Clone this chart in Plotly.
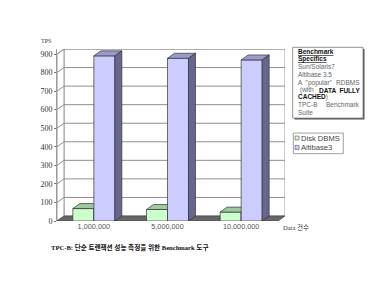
import plotly.graph_objects as go

categories = ["1,000,000", "5,000,000", "10,000,000"]
disk_dbms = [67, 62, 48]
altibase3 = [890, 877, 868]
y_ticks = [0, 100, 200, 300, 400, 500, 600, 700, 800, 900]

series = [
    ("Disk DBMS", disk_dbms, "#ccffcc", "#9ec89e", "#6f8f6f"),
    ("Altibase3", altibase3, "#ccccff", "#9a9acb", "#66668f"),
]

# geometry (in axis units)
W = 0.285          # bar width in category units
DX = 0.095         # depth offset x (category units)
DY = 27            # depth offset y (value units)
YMAX = 900

PL, PR, PT, PB = 57, 95, 49, 63.5
FW, FH = 380, 285
PW = FW - PL - PR
PH = FH - PT - PB


def px(x):
    return (x - PL) / PW


def py(y):
    return (FH - PB - y) / PH


fig = go.Figure()


def poly(xs, ys, fill, line="#333333", lw=0.7):
    fig.add_trace(go.Scatter(
        x=xs + [xs[0]], y=ys + [ys[0]], mode="lines", fill="toself",
        fillcolor=fill, line=dict(color=line, width=lw),
        hoverinfo="skip", showlegend=False, cliponaxis=False))


n = len(categories)
x_left, x_right = -0.5, n - 0.5

# back wall
poly([x_left + DX, x_right + DX, x_right + DX, x_left + DX],
     [DY, DY, YMAX + DY, YMAX + DY], "#ffffff", "#9a9a9a", 1)
# left wall
poly([x_left, x_left + DX, x_left + DX, x_left],
     [0, DY, YMAX + DY, YMAX], "#ffffff", "#9a9a9a", 1)
# floor
poly([x_left, x_right, x_right + DX, x_left + DX],
     [0, 0, DY, DY], "#666666", "#4a4a4a", 0.7)

# gridlines (left wall diagonal + back wall horizontal)
gx, gy = [], []
for v in y_ticks[1:]:
    gx += [x_left, x_left + DX, x_right + DX, None]
    gy += [v, v + DY, v + DY, None]
fig.add_trace(go.Scatter(x=gx, y=gy, mode="lines",
                         line=dict(color="#8f8f8f", width=1),
                         hoverinfo="skip", showlegend=False, cliponaxis=False))

# bars
for i in range(n):
    for k, (name, vals, cf, ct, cs) in enumerate(series):
        v = vals[i]
        x0 = i - W + k * W
        x1 = x0 + W
        poly([x0, x1, x1, x0], [0, 0, v, v], cf)
        poly([x0, x1, x1 + DX, x0 + DX], [v, v, v + DY, v + DY], ct)
        poly([x1, x1 + DX, x1 + DX, x1], [0, DY, v + DY, v], cs)

fig.update_xaxes(range=[x_left, x_right + DX], tickvals=list(range(n)),
                 ticktext=categories, showgrid=False, zeroline=False,
                 showline=False, ticks="", ticklen=0,
                 tickfont=dict(family="Liberation Sans", size=7.3, color="#555555"))
fig.update_yaxes(range=[0, YMAX + DY], tickvals=y_ticks,
                 showgrid=False, zeroline=False, showline=True,
                 linecolor="#9a9a9a", linewidth=1,
                 ticks="outside", ticklen=2, tickcolor="#777777",
                 tickfont=dict(family="Liberation Serif", size=8, color="#333333"))

ann = []


def text(x, y, t, size=6.5, color="#666666", family="Liberation Sans", anchor="left"):
    ann.append(dict(x=px(x), y=py(y), xref="paper", yref="paper", text=t,
                    showarrow=False, xanchor=anchor, yanchor="middle",
                    font=dict(family=family, size=size, color=color), borderpad=0))


text(39.5, 41, "TPS", 6, "#333333", "Liberation Serif")
text(282, 228.5, "Data 건수", 6.5, "#333333", "Liberation Serif, Noto Sans CJK KR")
text(49.5, 248.5, "<b>TPC-B: 단순 트랜잭션 성능 측정을 위한 Benchmark 도구</b>",
     6.6, "#111111", "Liberation Serif, Noto Sans CJK KR")

# spec box text
text(297, 51.3, "<b><u>Benchmark</u></b>", 6.5, "#111111")
text(297, 59, "<b><u>Specifics</u></b>", 6.5, "#111111")
text(297, 67, "Sun/Solaris7")
text(297, 74.3, "Altibase 3.5")
text(297, 82.7, "A  \"popular\"")
text(361, 82.7, "RDBMS", anchor="right")
text(299, 90.3, "(with")
text(361, 90.3, "<b><span style='color:#111111'>DATA  FULLY</span></b>", anchor="right")
text(297, 97.3, "<b><span style='color:#111111'>CACHED</span></b>)")
text(297, 105, "TPC-B")
text(361, 105, "Benchmark", anchor="right")
text(297, 112.7, "Suite")

# legend text
text(300, 138.3, "Disk DBMS", 7.6, "#444444")
text(300, 147.7, "Altibase3", 7.6, "#444444")

shapes = [
    # shadow of spec box
    dict(type="rect", xref="paper", yref="paper", x0=px(294.5), x1=px(364.5),
         y0=py(119.8), y1=py(49), fillcolor="#555555", line=dict(width=0)),
    dict(type="rect", xref="paper", yref="paper", x0=px(292.7), x1=px(363),
         y0=py(118.3), y1=py(47.3), fillcolor="#ffffff",
         line=dict(color="#777777", width=0.8)),
    # legend box
    dict(type="rect", xref="paper", yref="paper", x0=px(293.3), x1=px(343.3),
         y0=py(154), y1=py(133.3), fillcolor="#ffffff",
         line=dict(color="#888888", width=0.8)),
    dict(type="rect", xref="paper", yref="paper", x0=px(295), x1=px(299),
         y0=py(140.3), y1=py(136.3), fillcolor=series[0][2],
         line=dict(color="#555555", width=0.6)),
    dict(type="rect", xref="paper", yref="paper", x0=px(295), x1=px(299),
         y0=py(149.7), y1=py(145.7), fillcolor=series[1][2],
         line=dict(color="#555555", width=0.6)),
]

fig.update_layout(width=FW, height=FH,
                  margin=dict(l=PL, r=PR, t=PT, b=PB),
                  paper_bgcolor="white", plot_bgcolor="white",
                  showlegend=False, annotations=ann, shapes=shapes)

fig.write_html("out.html")
